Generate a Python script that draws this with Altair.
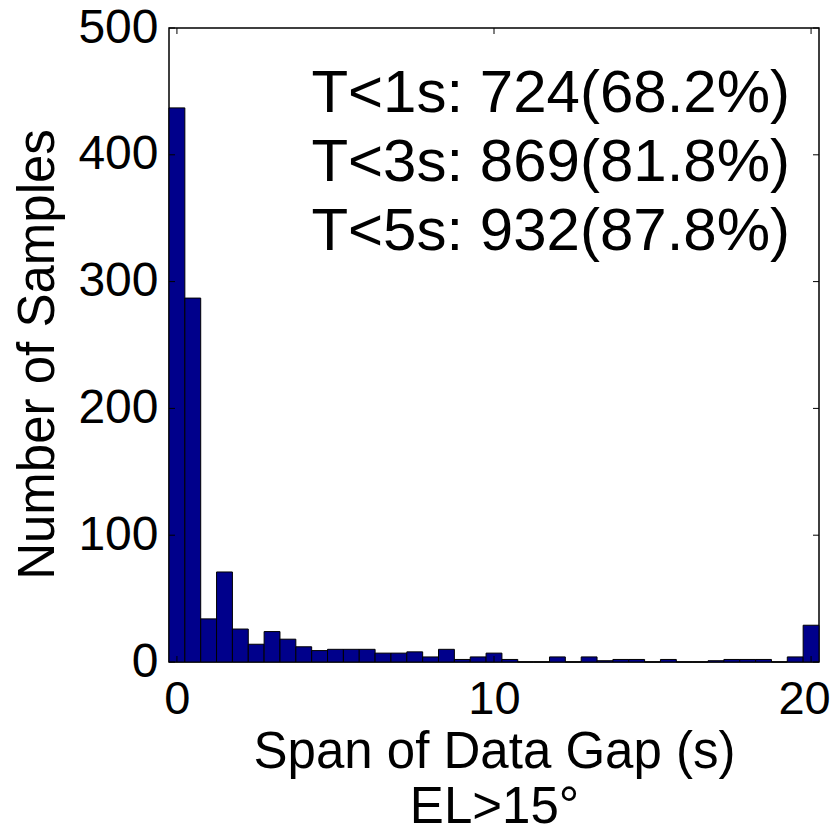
import altair as alt
import pandas as pd

# Histogram bins (centres, width 0.5 s) and counts
bin_centers = [0.0, 0.5, 1.0, 1.5, 2.0, 2.5, 3.0, 3.5, 4.0, 4.5,
               5.0, 5.5, 6.0, 6.5, 7.0, 7.5, 8.0, 8.5, 9.0, 9.5,
               10.0, 10.5, 11.0, 11.5, 12.0, 12.5, 13.0, 13.5, 14.0, 14.5,
               15.0, 15.5, 16.0, 16.5, 17.0, 17.5, 18.0, 18.5, 19.0, 19.5, 20.0]
counts = [437, 287, 34, 71, 26, 14, 24, 18, 12, 9,
          10, 10, 10, 7, 7, 8, 4, 10, 2, 4,
          7, 2, 0, 0, 4, 0, 4, 1, 2, 2,
          0, 2, 0, 0, 1, 2, 2, 2, 0, 4, 29]
bin_width = 0.5

x_ticks = [0, 10, 20]
y_ticks = [0, 100, 200, 300, 400, 500]
notes = ["T<1s: 724(68.2%)", "T<3s: 869(81.8%)", "T<5s: 932(87.8%)"]
x_title = ["Span of Data Gap (s)", "EL>15°"]
y_title = "Number of Samples"

FONT = "Liberation Sans"
W, H = 650, 634
TL = 6

df = pd.DataFrame({"center": bin_centers, "count": counts})
df["start"] = df["center"] - bin_width / 2
df["end"] = df["center"] + bin_width / 2

xscale = alt.Scale(domain=[-0.25, 20.25], nice=False, zero=False)
yscale = alt.Scale(domain=[0, 500], nice=False)

x_axis = alt.Axis(values=x_ticks, title=x_title, labelFlush=False,
                  labelFontSize=47, labelFont=FONT, labelColor="black",
                  labelPadding=14, ticks=False, domain=False, grid=False,
                  labelOffset={"condition": {"test": "datum.value == 20", "value": -7}, "value": 0},
                  titleFont=FONT, titleFontSize=51, titleFontWeight="normal",
                  titleColor="black", titlePadding=5, titleLineHeight=55)
y_axis = alt.Axis(values=y_ticks, title=y_title, labelFontSize=48, labelFont=FONT,
                  labelColor="black", labelPadding=11, ticks=False,
                  domain=False, grid=False, titleFont=FONT, titleFontSize=51,
                  titleFontWeight="normal", titleColor="black", titlePadding=13,
                  titleY=326)

bars = alt.Chart(df).mark_bar(color="#00008B", stroke="black", strokeWidth=1).encode(
    x=alt.X("start:Q", scale=xscale, axis=x_axis),
    x2="end:Q",
    y=alt.Y("count:Q", scale=yscale, axis=y_axis),
    y2=alt.datum(0),
)

xt = pd.DataFrame({"v": x_ticks})
yt = pd.DataFrame({"v": y_ticks})

xb = alt.Chart(xt).mark_rule(color="black", strokeWidth=1).encode(
    x=alt.X("v:Q", scale=xscale, axis=x_axis), y=alt.value(H), y2=alt.value(H - TL))
xtop = alt.Chart(xt).mark_rule(color="black", strokeWidth=1).encode(
    x=alt.X("v:Q", scale=xscale, axis=x_axis), y=alt.value(0), y2=alt.value(TL))
yl = alt.Chart(yt).mark_rule(color="black", strokeWidth=1).encode(
    y=alt.Y("v:Q", scale=yscale, axis=y_axis), x=alt.value(0), x2=alt.value(TL))
yr = alt.Chart(yt).mark_rule(color="black", strokeWidth=1).encode(
    y=alt.Y("v:Q", scale=yscale, axis=y_axis), x=alt.value(W), x2=alt.value(W - TL))

txt = alt.Chart(pd.DataFrame({"k": [0]})).mark_text(
    text=notes, align="right", baseline="alphabetic", font=FONT, fontSize=60,
    lineHeight=69, color="black").encode(x=alt.value(621), y=alt.value(84))

chart = alt.layer(bars, xb, xtop, yl, yr, txt).properties(
    width=W, height=H,
    autosize=alt.AutoSizeParams(type="none"),
    padding={"left": 161, "top": 20, "right": 12, "bottom": 169},
).configure_view(stroke="black", strokeWidth=1.5)

chart.save("out.html", embed_options={"renderer": "svg", "actions": False})
